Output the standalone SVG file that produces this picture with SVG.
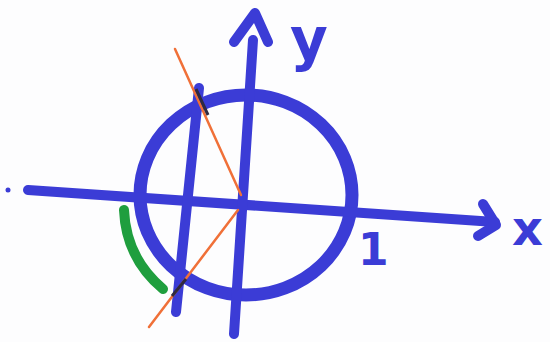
<svg xmlns="http://www.w3.org/2000/svg" width="550" height="342" viewBox="0 0 550 342">
<style>
.ink{fill:none;stroke:#3b3cd6;stroke-linecap:round;stroke-linejoin:round}
.lbl{fill:#3b3cd6;font-family:"DejaVu Sans",sans-serif;font-weight:bold}
.or{fill:none;stroke:#f07038;stroke-width:2.5;stroke-linecap:round}
</style>
<rect width="550" height="342" fill="#fdfdfe"/>
<g id="circle">
<ellipse class="ink" cx="246" cy="195" rx="106" ry="100" stroke-width="13"/>
</g>
<g id="x-axis">
<path class="ink" d="M28,190 L495,222" stroke-width="10"/>
<path class="ink" d="M483,204 L496,225 L478,236" stroke-width="10"/>
<text class="lbl" x="512" y="245" font-size="48">x</text>
</g>
<g id="y-axis">
<path class="ink" d="M234,334 L253,40" stroke-width="10"/>
<path class="ink" d="M234,42 L255,13 L268,42" stroke-width="10"/>
<text class="lbl" x="290" y="60" font-size="58">y</text>
</g>
<g id="cos-line">
<path class="ink" d="M199,88 L176,312" stroke-width="10"/>
</g>
<g id="tick-one">
<text class="lbl" x="358" y="265" font-size="44" font-weight="normal" font-family="Liberation Sans, sans-serif">1</text>
</g>
<g id="green-arc">
<path d="M124,210 Q126,258 163,289" fill="none" stroke="#1f9e3e" stroke-width="10" stroke-linecap="round"/>
</g>
<g id="connectors">
<path class="or" d="M175,49 L241,195"/>
<path class="or" d="M238,210 L149,327"/>
<path d="M196,89 L208,115" stroke="#302a40" stroke-width="3" fill="none"/>
<path d="M186,279 L172,296" stroke="#302a40" stroke-width="3" fill="none"/>
</g>
<circle cx="8" cy="190" r="2.5" fill="#3b3cd6"/>
</svg>
